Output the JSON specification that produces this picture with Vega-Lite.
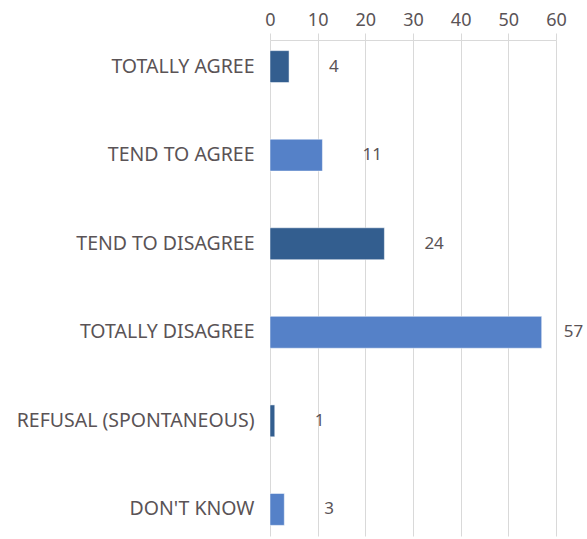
{
  "$schema": "https://vega.github.io/schema/vega-lite/v6.json",
  "width": 286,
  "height": 496,
  "autosize": {"type": "none"},
  "padding": {"left": 270, "top": 40, "right": 31, "bottom": 3},
  "background": "white",
  "config": {"view": {"stroke": null}, "font": "Noto Sans"},
  "data": {
    "values": [
      {"answer": "TOTALLY AGREE", "pct": 4, "shade": "dark"},
      {"answer": "TEND TO AGREE", "pct": 11, "shade": "light"},
      {"answer": "TEND TO DISAGREE", "pct": 24, "shade": "dark"},
      {"answer": "TOTALLY DISAGREE", "pct": 57, "shade": "light"},
      {"answer": "REFUSAL (SPONTANEOUS)", "pct": 1, "shade": "dark"},
      {"answer": "DON'T KNOW", "pct": 3, "shade": "light"}
    ]
  },
  "encoding": {
    "y": {
      "field": "answer",
      "type": "nominal",
      "sort": null,
      "scale": {"paddingInner": 0.64, "paddingOuter": 0.12},
      "axis": {
        "title": null,
        "domain": false,
        "ticks": false,
        "labelFontSize": 19.5,
        "labelColor": "#5A5356",
        "labelPadding": 16,
        "labelLimit": 400
      }
    },
    "x": {
      "field": "pct",
      "type": "quantitative",
      "scale": {"domain": [0, 60], "nice": false},
      "axis": {
        "title": null,
        "orient": "top",
        "values": [0, 10, 20, 30, 40, 50, 60],
        "grid": true,
        "gridColor": "#d9d9d9",
        "domainColor": "#d9d9d9",
        "tickColor": "#d9d9d9",
        "tickSize": 7,
        "labelFontSize": 18,
        "labelColor": "#5A5356",
        "labelPadding": 4,
        "domainWidth": 1,
        "labelFlush": false
      }
    }
  },
  "layer": [
    {
      "mark": {"type": "bar", "stroke": "white", "strokeWidth": 0.5},
      "encoding": {
        "color": {
          "field": "shade",
          "type": "nominal",
          "scale": {"domain": ["dark", "light"], "range": ["#335E8F", "#5581C8"]},
          "legend": null
        }
      }
    },
    {
      "transform": [{"filter": "datum.pct < 50"}],
      "mark": {"type": "text", "align": "left", "dx": 40, "fontSize": 17, "color": "#5A5356"},
      "encoding": {"text": {"field": "pct", "type": "quantitative"}}
    },
    {
      "transform": [{"filter": "datum.pct >= 50"}],
      "mark": {"type": "text", "align": "left", "dx": 22, "fontSize": 17, "color": "#5A5356"},
      "encoding": {"text": {"field": "pct", "type": "quantitative"}}
    }
  ]
}
